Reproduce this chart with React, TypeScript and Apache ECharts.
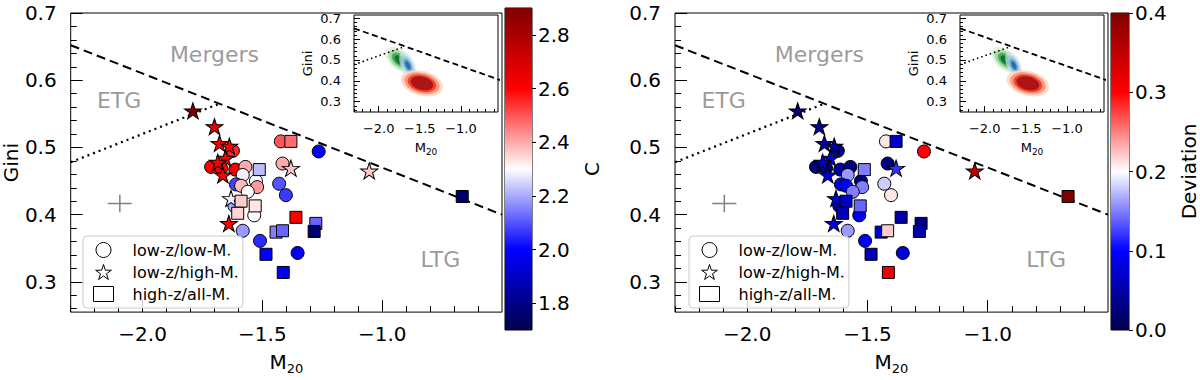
import React, { useEffect, useRef } from 'react';
import * as echarts from 'echarts';

const FONT = 'DejaVu Sans';

// ---------- data: low-z / low-M* (circles) ----------
const circleM20 = [-1.623, -1.714, -1.672, -1.613, -1.571, -1.582, -1.610, -1.589, -1.527, -1.522, -1.561, -1.617, -1.534, -1.582, -1.510, -1.353, -1.423, -1.416, -1.430, -1.402, -1.265];
const circleGini = [0.495, 0.471, 0.469, 0.467, 0.471, 0.459, 0.445, 0.443, 0.450, 0.441, 0.434, 0.413, 0.399, 0.376, 0.361, 0.343, 0.509, 0.476, 0.446, 0.429, 0.494];
const circleC = [2.55, 2.6, 2.6, 2.62, 2.4, 2.28, 2.08, 2.38, 2.3, 2.42, 2.3, 2.2, 2.3, 2.18, 2.05, 1.98, 2.5, 2.4, 2.1, 2.07, 2.0];
const circleDev = [0.04, 0.02, 0.03, 0.05, 0.03, 0.16, 0.09, 0.1, 0.03, 0.15, 0.15, 0.05, 0.1, 0.16, 0.1, 0.08, 0.21, 0.03, 0.18, 0.21, 0.3];

// ---------- data: low-z / high-M* (stars) ----------
const starM20 = [-1.790, -1.700, -1.679, -1.638, -1.654, -1.686, -1.665, -1.631, -1.640, -1.381, -1.054];
const starGini = [0.5545, 0.531, 0.506, 0.502, 0.484, 0.478, 0.459, 0.424, 0.387, 0.469, 0.465];
const starC = [2.9, 2.65, 2.6, 2.6, 2.6, 2.62, 2.6, 2.28, 2.6, 2.37, 2.36];
const starDev = [0.02, 0.04, 0.05, 0.05, 0.08, 0.07, 0.08, 0.08, 0.08, 0.12, 0.35];

// ---------- data: high-z / all-M* (squares) ----------
const squareM20 = [-1.381, -1.513, -1.589, -1.530, -1.603, -1.360, -1.443, -1.416, -1.277, -1.284, -1.485, -1.413, -0.666];
const squareGini = [0.509, 0.467, 0.420, 0.413, 0.402, 0.396, 0.374, 0.376, 0.387, 0.375, 0.341, 0.314, 0.427];
const squareC = [2.47, 2.22, 2.36, 2.33, 2.35, 2.62, 2.15, 2.12, 2.12, 1.75, 2.0, 1.98, 1.75];
const squareDev = [0.07, 0.15, 0.07, 0.14, 0.06, 0.05, 0.08, 0.22, 0.03, 0.05, 0.06, 0.31, 0.4];

const seriesNames = ['low-z/low-M⋆', 'low-z/high-M⋆', 'high-z/all-M⋆'];

// ---------- classification lines ----------
const mergerLineM20 = [-2.3, -0.5];
const mergerLineGini = [0.652, 0.4];
const etgLineM20 = [-2.3, -1.68];
const etgLineGini = [0.478, 0.565];

// typical error cross: [M20, Gini, halfM20, halfGini]
const errorCross = [-2.095, 0.4165, 0.05, 0.013];

// region labels
const regionNames = ['Mergers', 'ETG', 'LTG'];
const regionM20 = [-1.70, -2.098, -0.757];
const regionGini = [0.639, 0.570, 0.333];

// ---------- ticks ----------
const xMajorTicks = [-2.0, -1.5, -1.0];
const xMinorTicks = [-2.3, -2.2, -2.1, -1.9, -1.8, -1.7, -1.6, -1.4, -1.3, -1.2, -1.1, -0.9, -0.8, -0.7, -0.6];
const yMajorTicks = [0.3, 0.4, 0.5, 0.6, 0.7];
const yMinorTicks = [0.26, 0.28, 0.32, 0.34, 0.36, 0.38, 0.42, 0.44, 0.46, 0.48, 0.52, 0.54, 0.56, 0.58, 0.62, 0.64, 0.66, 0.68];
const mainXRange = [-2.3, -0.5];
const mainYRange = [0.255, 0.7];
const insetXRange = [-2.3, -0.55];
const insetYRange = [0.25, 0.716];

const cRange = [1.7, 2.9];
const cTicks = [1.8, 2.0, 2.2, 2.4, 2.6, 2.8];
const devRange = [0, 0.4];
const devTicks = [0, 0.1, 0.2, 0.3, 0.4];

// ---------- inset density contours: [cM20, cGini, uM20, uGini, vM20, vGini] ----------
const greenBlob = [-1.745, 0.5, 0.16, -0.05, 0.07, 0.038];
const greenLevels = [1, 0.78, 0.55, 0.36];
const greenColors = ['#dff2da', '#a1d99b', '#41ab5d', '#0b6e30'];
const blueBlob = [-1.645, 0.474, 0.076, -0.062, 0.074, 0.016];
const blueLevels = [1, 0.75, 0.5, 0.3];
const blueColors = ['#d6e6f4', '#9ecae1', '#4292c6', '#08519c'];
const redBlob = [-1.475, 0.388, 0.255, -0.011, -0.027, 0.062];
const redLevels = [1, 0.84, 0.68, 0.54];
const redColors = ['#fdd5c6', '#fc9272', '#ef3b2c', '#a50f15'];

const seismic = ['#00004d', '#0000ff', '#ffffff', '#ff0000', '#800000'];

const STAR = 'path://M0,-1L0.2245,-0.309L0.951,-0.309L0.3633,0.118L0.5878,0.809L0,0.382L-0.5878,0.809L-0.3633,0.118L-0.951,-0.309L-0.2245,-0.309Z';

const fmt1 = (v: number) => (v < 0 ? '\u2212' : '') + Math.abs(v).toFixed(1);

function pts(m: number[], g: number[], c: number[], d: number[]) {
  return m.map((x, i) => [x, g[i], c[i], d[i]]);
}

function blobData(blob: number[], levels: number[]) {
  return levels.map((s, i) => [blob[0], blob[1], blob[2] * s, blob[3] * s, blob[4] * s, blob[5] * s, i]);
}

function blobRender(colors: string[], opacity: number) {
  return (params: any, api: any) => {
    const cx = api.value(0), cy = api.value(1), ux = api.value(2), uy = api.value(3), vx = api.value(4), vy = api.value(5);
    const lvl = api.value(6);
    const points: number[][] = [];
    for (let i = 0; i < 64; i++) {
      const t = (i / 64) * Math.PI * 2;
      points.push(api.coord([cx + Math.cos(t) * ux + Math.sin(t) * vx, cy + Math.cos(t) * uy + Math.sin(t) * vy]));
    }
    return { type: 'polygon', shape: { points }, style: { fill: colors[lvl], opacity } };
  };
}

function buildOption() {
  const grid: any[] = [];
  const xAxis: any[] = [];
  const yAxis: any[] = [];
  const series: any[] = [];
  const visualMap: any[] = [];
  const legend: any[] = [];

  const panels = [
    { dx: 0, dim: 2, range: cRange, ticks: cTicks, name: 'C', yName: 'Gini' },
    { dx: 606, dim: 3, range: devRange, ticks: devTicks, name: 'Deviation', yName: '' },
  ];

  const txt = { fontFamily: FONT, color: '#000' };

  const valueAxis = (gi: number, pos: string, range: number[], ticks: number[], len: number, labels: any) => ({
    type: 'value', gridIndex: gi, position: pos, min: range[0], max: range[1],
    axisLine: { show: false, onZero: false },
    axisTick: { show: true, inside: true, length: len, customValues: ticks, lineStyle: { color: '#000', width: 1 } },
    axisLabel: labels,
    splitLine: { show: false },
  });

  panels.forEach((p) => {
    // ---------- main plot ----------
    const gMain = grid.length;
    grid.push({ left: 69 + p.dx, top: 7, width: 433, height: 316, show: true, borderColor: '#000', borderWidth: 1, backgroundColor: 'transparent' });
    xAxis.push(valueAxis(gMain, 'bottom', mainXRange, xMinorTicks, 6, { show: false }));
    const xi = xAxis.length;
    xAxis.push({
      ...valueAxis(gMain, 'bottom', mainXRange, xMajorTicks, 12, { show: true, customValues: xMajorTicks, formatter: fmt1, fontSize: 20, margin: 12, ...txt }),
      name: 'M{s|20}', nameLocation: 'middle', nameGap: 32,
      nameTextStyle: { fontSize: 20, lineHeight: 26, ...txt, rich: { s: { fontSize: 13, lineHeight: 16, verticalAlign: 'bottom', ...txt } } },
    });
    yAxis.push(valueAxis(gMain, 'left', mainYRange, yMinorTicks, 6, { show: false }));
    const yi = yAxis.length;
    yAxis.push({
      ...valueAxis(gMain, 'left', mainYRange, yMajorTicks, 12, { show: true, customValues: yMajorTicks, formatter: fmt1, fontSize: 20, margin: 14, lineHeight: 18, padding: [8, 0, 0, 0], ...txt }),
      name: p.yName, nameLocation: 'middle', nameGap: 46, nameTextStyle: { fontSize: 20, ...txt },
    });

    const onMain = { xAxisIndex: xi, yAxisIndex: yi };
    series.push({
      type: 'line', ...onMain, data: mergerLineM20.map((x, i) => [x, mergerLineGini[i]]), symbol: 'none', silent: true,
      lineStyle: { color: '#000', width: 2, type: [9, 5] }, z: 1,
    });
    series.push({
      type: 'line', ...onMain, data: etgLineM20.map((x, i) => [x, etgLineGini[i]]), symbol: 'none', silent: true,
      lineStyle: { color: '#000', width: 2.3, type: [2, 4] }, z: 1,
    });
    series.push({
      type: 'line', ...onMain, data: [[errorCross[0] - errorCross[2], errorCross[1]], [errorCross[0] + errorCross[2], errorCross[1]]],
      symbol: 'none', silent: true, lineStyle: { color: '#808080', width: 1.5 }, z: 1,
    });
    series.push({
      type: 'line', ...onMain, data: [[errorCross[0], errorCross[1] - errorCross[3]], [errorCross[0], errorCross[1] + errorCross[3]]],
      symbol: 'none', silent: true, lineStyle: { color: '#808080', width: 1.5 }, z: 1,
    });
    series.push({
      type: 'scatter', ...onMain, silent: true, symbolSize: 1, itemStyle: { color: 'rgba(0,0,0,0)' },
      data: regionNames.map((n, i) => ({ name: n, value: [regionM20[i], regionGini[i]] })),
      label: { show: true, position: 'inside', formatter: '{b}', fontSize: 22, color: '#808080', fontFamily: FONT },
    });
    const scatterIdx: number[] = [];
    scatterIdx.push(series.length);
    series.push({
      type: 'scatter', name: seriesNames[0], ...onMain, data: pts(circleM20, circleGini, circleC, circleDev),
      symbol: 'circle', symbolSize: 13, itemStyle: { borderColor: '#000', borderWidth: 1, opacity: 1 }, z: 3,
    });
    scatterIdx.push(series.length);
    series.push({
      type: 'scatter', name: seriesNames[1], ...onMain, data: pts(starM20, starGini, starC, starDev),
      symbol: STAR, symbolSize: [17, 16], itemStyle: { borderColor: '#000', borderWidth: 1, opacity: 1 }, z: 3,
    });
    scatterIdx.push(series.length);
    series.push({
      type: 'scatter', name: seriesNames[2], ...onMain, data: pts(squareM20, squareGini, squareC, squareDev),
      symbol: 'rect', symbolSize: 12, itemStyle: { borderColor: '#000', borderWidth: 1, opacity: 1 }, z: 3,
    });
    visualMap.push({
      type: 'continuous', show: false, seriesIndex: scatterIdx, dimension: p.dim,
      min: p.range[0], max: p.range[1], inRange: { color: seismic },
    });

    legend.push({
      show: true, left: 83 + p.dx, top: 236, orient: 'vertical', selectedMode: false,
      backgroundColor: 'rgba(255,255,255,0.8)', borderColor: '#cccccc', borderWidth: 1, borderRadius: 4,
      padding: [6, 4, 6, 10], itemGap: 6, itemWidth: 20, itemHeight: 15,
      data: [
        { name: seriesNames[0], icon: 'circle', itemStyle: { color: '#fff', borderColor: '#000', borderWidth: 1 } },
        { name: seriesNames[1], icon: STAR, itemStyle: { color: '#fff', borderColor: '#000', borderWidth: 1 } },
        { name: seriesNames[2], icon: 'rect', itemStyle: { color: '#fff', borderColor: '#000', borderWidth: 1 } },
      ],
      formatter: (n: string) => '{t|' + n.replace('⋆', '') + '}{s|⋆}',
      textStyle: {
        ...txt, fontSize: 16,
        rich: { t: { fontSize: 16, padding: [0, 0, 0, 14], ...txt }, s: { fontSize: 8, verticalAlign: 'bottom', ...txt } },
      },
    });

    // ---------- colour bar ----------
    const gCb = grid.length;
    grid.push({ left: 505 + p.dx, top: 8, width: 27, height: 322, show: true, borderColor: '#000', borderWidth: 1, backgroundColor: 'transparent' });
    const cbx = xAxis.length;
    xAxis.push({ type: 'category', gridIndex: gCb, data: ['cb'], show: false, boundaryGap: true });
    const cby = yAxis.length;
    yAxis.push({
      type: 'value', gridIndex: gCb, position: 'right', min: p.range[0], max: p.range[1],
      axisLine: { show: false, onZero: false },
      axisTick: { show: true, inside: false, length: 4, customValues: p.ticks, lineStyle: { color: '#000' } },
      axisLabel: { show: true, customValues: p.ticks, formatter: fmt1, fontSize: 20, margin: 6, lineHeight: 18, padding: [8, 0, 0, 0], ...txt },
      splitLine: { show: false },
      name: p.name, nameLocation: 'middle', nameGap: 50, nameTextStyle: { fontSize: 20, ...txt },
    });
    series.push({ type: 'bar', xAxisIndex: cbx, yAxisIndex: cby, stack: 'cb' + p.dx, barWidth: '100%', silent: true, data: [p.range[0]], itemStyle: { color: 'rgba(0,0,0,0)' } });
    series.push({
      type: 'bar', xAxisIndex: cbx, yAxisIndex: cby, stack: 'cb' + p.dx, barWidth: '100%', silent: true, data: [p.range[1] - p.range[0]],
      itemStyle: {
        color: new echarts.graphic.LinearGradient(0, 0, 0, 1, [
          { offset: 0, color: seismic[4] }, { offset: 0.25, color: seismic[3] }, { offset: 0.5, color: seismic[2] },
          { offset: 0.75, color: seismic[1] }, { offset: 1, color: seismic[0] },
        ]),
      },
    });

    // ---------- inset ----------
    const gIn = grid.length;
    grid.push({ left: 354 + p.dx, top: 15, width: 144, height: 97, show: true, borderColor: '#000', borderWidth: 1, backgroundColor: '#fff' });
    xAxis.push(valueAxis(gIn, 'bottom', insetXRange, xMinorTicks, 3, { show: false }));
    const ixi = xAxis.length;
    xAxis.push({
      ...valueAxis(gIn, 'bottom', insetXRange, xMajorTicks, 6, { show: true, customValues: xMajorTicks, formatter: fmt1, fontSize: 13, margin: 10, ...txt }),
      name: 'M{s|20}', nameLocation: 'middle', nameGap: 27,
      nameTextStyle: { fontSize: 13, lineHeight: 17, ...txt, rich: { s: { fontSize: 9, lineHeight: 11, verticalAlign: 'bottom', ...txt } } },
    });
    yAxis.push(valueAxis(gIn, 'left', insetYRange, yMinorTicks, 3, { show: false }));
    const iyi = yAxis.length;
    yAxis.push({
      ...valueAxis(gIn, 'left', insetYRange, yMajorTicks, 6, { show: true, customValues: yMajorTicks, formatter: fmt1, fontSize: 13, margin: 13, ...txt }),
      name: 'Gini', nameLocation: 'middle', nameGap: 40, nameTextStyle: { fontSize: 13, ...txt },
    });
    const onIn = { xAxisIndex: ixi, yAxisIndex: iyi };
    series.push({ type: 'custom', ...onIn, clip: true, silent: true, data: blobData(greenBlob, greenLevels), renderItem: blobRender(greenColors, 0.9), z: 5 });
    series.push({ type: 'custom', ...onIn, clip: true, silent: true, data: blobData(blueBlob, blueLevels), renderItem: blobRender(blueColors, 0.65), z: 5 });
    series.push({ type: 'custom', ...onIn, clip: true, silent: true, data: blobData(redBlob, redLevels), renderItem: blobRender(redColors, 0.9), z: 5 });
    series.push({
      type: 'line', ...onIn, data: mergerLineM20.map((x, i) => [x, mergerLineGini[i]]), symbol: 'none', silent: true, clip: true,
      lineStyle: { color: '#000', width: 1.8, type: [6, 3.5] }, z: 6,
    });
    series.push({
      type: 'line', ...onIn, data: etgLineM20.map((x, i) => [x, etgLineGini[i]]), symbol: 'none', silent: true, clip: true,
      lineStyle: { color: '#000', width: 1.8, type: [1.5, 3] }, z: 6,
    });
  });

  return {
    animation: false,
    backgroundColor: '#fff',
    textStyle: { fontFamily: FONT },
    grid, xAxis, yAxis, series, visualMap, legend,
  };
}

export default function App() {
  const ref = useRef<HTMLDivElement>(null);
  useEffect(() => {
    if (!ref.current) return;
    const chart = echarts.init(ref.current, undefined, { renderer: 'svg' });
    chart.setOption(buildOption() as any);
    return () => chart.dispose();
  }, []);
  return <div ref={ref} style={{ position: 'absolute', left: 0, top: 0, width: 1200, height: 380, background: '#fff' }} />;
}
